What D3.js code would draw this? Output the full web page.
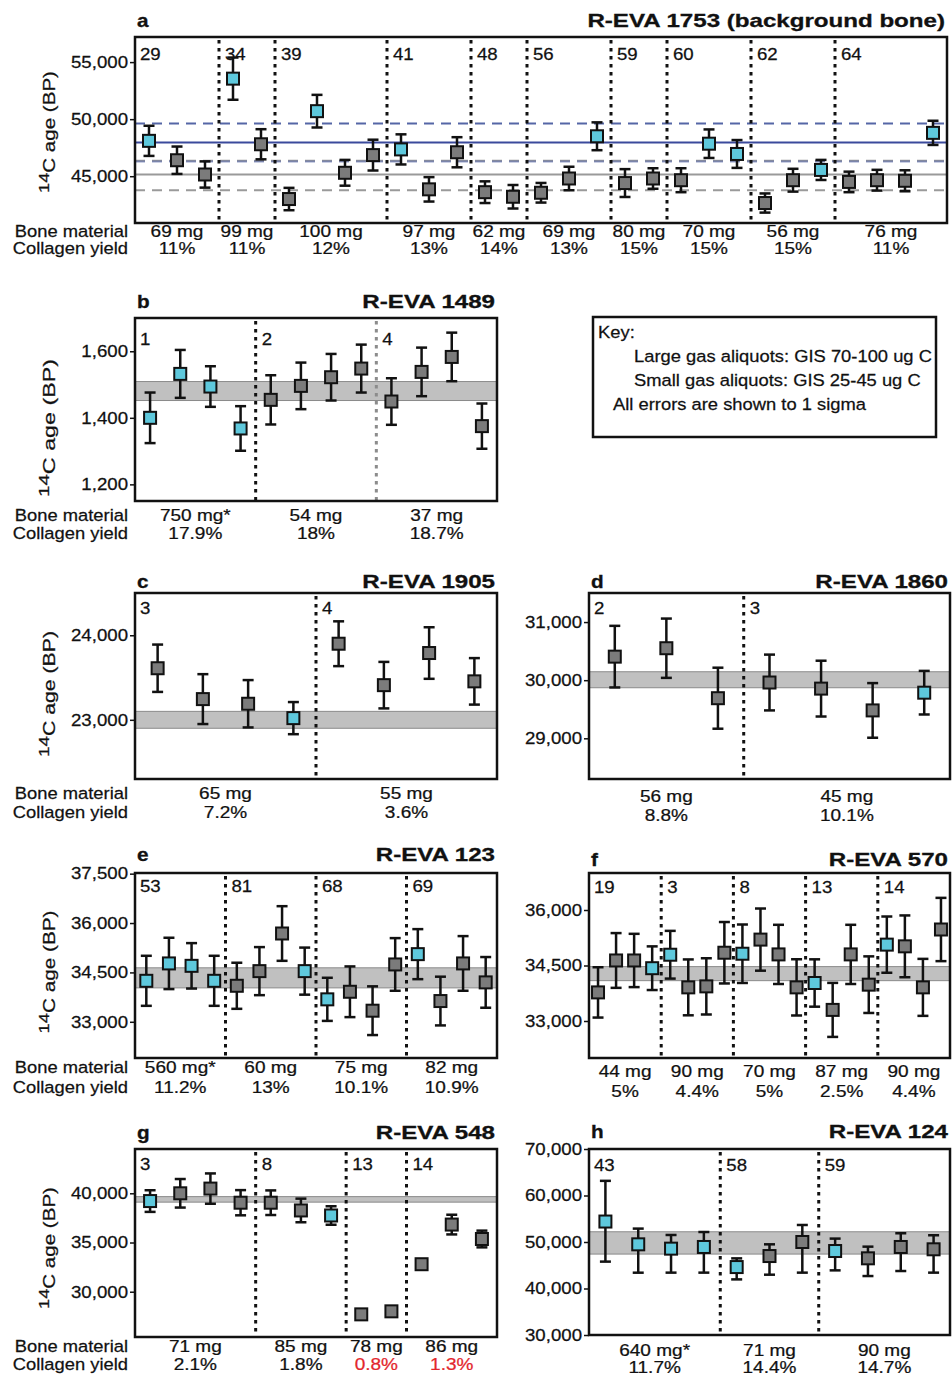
<!DOCTYPE html>
<html>
<head>
<meta charset="utf-8">
<script src="https://cdn.jsdelivr.net/npm/d3@7"></script>
<style>
  body { margin: 0; background: #fff; }
  text { font-family: "Liberation Sans", Arial, Helvetica, sans-serif; }
</style>
</head>
<body>
<script>
// ---- data (14C ages in years BP, 1 sigma) ----
// kind: c = cyan marker, g = grey marker

// a: R-EVA 1753 (background bone)
const aAge = [48100, 46400, 45150, 53550, 47800, 43000, 50700, 45300, 46850, 47350, 43850, 47100, 43600, 43200, 43550,
              44800, 48500, 44400, 44800, 44650, 47850, 46950, 42650, 44650, 45550, 44500, 44650, 44600, 48800];
const aErr = [1320, 1200, 1150, 1850, 1320, 980, 1430, 1130, 1350, 1320, 1070, 1320, 950, 1030, 860,
              1030, 1220, 1220, 900, 1050, 1250, 1220, 840, 1000, 880, 900, 910, 920, 1060];
const aKind = "cggcggcggcggggggcgggccggcgggc";
const aGroups = [3, 2, 4, 3, 2, 3, 2, 3, 3, 4];
const aIds = ["29", "34", "39", "41", "48", "56", "59", "60", "62", "64"];
const aMass = ["69 mg", "99 mg", "100 mg", "97 mg", "62 mg", "69 mg", "80 mg", "70 mg", "56 mg", "76 mg"];
const aYield = ["11%", "11%", "12%", "13%", "14%", "13%", "15%", "15%", "15%", "11%"];
const aBlueLine = [46300, 47950, 49620];   // lower, mean, upper
const aGreyLine = [43770, 45150, 46350];

// b: R-EVA 1489
const bAge = [1400, 1532, 1494, 1368, 1454, 1496, 1522, 1548, 1449, 1538, 1583, 1375];
const bErr = [76, 72, 61, 67, 74, 70, 70, 72, 70, 73, 73, 68];
const bKind = "ccccgggggggg";
const bGroups = [4, 4, 4];
const bIds = ["1", "2", "4"];
const bMass = ["750 mg*", "54 mg", "37 mg"];
const bYield = ["17.9%", "18%", "18.7%"];
const bBand = [1452, 1509];

// c: R-EVA 1905
const cAge = [23610, 23245, 23190, 23020, 23900, 23410, 23790, 23455];
const cErr = [280, 295, 280, 190, 265, 275, 305, 275];
const cKind = "gggcgggg";
const cGroups = [4, 4];
const cIds = ["3", "4"];
const cMass = ["65 mg", "55 mg"];
const cYield = ["7.2%", "3.6%"];
const cBand = [22900, 23100];

// d: R-EVA 1860
const dAge = [30405, 30550, 29690, 29960, 29855, 29480, 29785];
const dErr = [530, 510, 525, 480, 480, 470, 375];
const dKind = "ggggggc";
const dGroups = [3, 4];
const dIds = ["2", "3"];
const dMass = ["56 mg", "45 mg"];
const dYield = ["8.8%", "10.1%"];
const dBand = [29870, 30145];

// e: R-EVA 123
const eAge = [34245, 34773, 34700, 34245, 34094, 34539, 35682, 34539, 33682, 33912, 33337, 34742, 35055, 33630, 34773, 34197];
const eErr = [760, 780, 690, 760, 700, 730, 830, 715, 655, 770, 740, 800, 760, 740, 830, 770];
const eKind = "ccccgggccgggcggg";
const eGroups = [4, 4, 4, 4];
const eIds = ["53", "81", "68", "69"];
const eMass = ["560 mg*", "60 mg", "75 mg", "82 mg"];
const eYield = ["11.2%", "13%", "10.1%", "10.9%"];
const eBand = [34030, 34640];

// f: R-EVA 570
const fAge = [33773, 34636, 34636, 34427, 34791, 33909, 33936, 34845, 34818, 35200, 34800, 33909, 34027, 33300, 34800, 33982, 35064, 35018, 33909, 35473];
const fErr = [680, 740, 720, 590, 645, 755, 760, 830, 790, 840, 800, 760, 640, 730, 800, 765, 760, 835, 770, 855];
const fKind = "gggccgggcgggcgggcggg";
const fGroups = [4, 4, 4, 4, 4];
const fIds = ["19", "3", "8", "13", "14"];
const fMass = ["44 mg", "90 mg", "70 mg", "87 mg", "90 mg"];
const fYield = ["5%", "4.4%", "5%", "2.5%", "4.4%"];
const fBand = [34090, 34470];

// g: R-EVA 548
const gAge = [39211, 40000, 40478, 39043, 39043, 38257, 37745, 27700, 28007, 32794, 36822, 35357];
const gErr = [1100, 1450, 1540, 1280, 1250, 1200, 940, 250, 250, 300, 1000, 850];
const gKind = "cgggggcggggg";
const gGroups = [4, 3, 2, 3];
const gIds = ["3", "8", "13", "14"];
const gMass = ["71 mg", "85 mg", "78 mg", "86 mg"];
const gYield = ["2.1%", "1.8%", "0.8%", "1.3%"];
const gLowYield = [false, false, true, true];
const gBand = [39100, 39660];

// h: R-EVA 124 (asymmetric errors)
const hAge = [54400, 49500, 48570, 48930, 44610, 46980, 50000, 48060, 46490, 48930, 48430];
const hErrUp = [8750, 3380, 2940, 3220, 1870, 2520, 3660, 2670, 2510, 2950, 3020];
const hErrDn = [8620, 6100, 5160, 5520, 2650, 4010, 6590, 4160, 3810, 5170, 5020];
const hKind = "cccccggcggg";
const hGroups = [4, 3, 4];
const hIds = ["43", "58", "59"];
const hMass = ["640 mg*", "71 mg", "90 mg"];
const hYield = ["11.7%", "14.4%", "14.7%"];
const hBand = [47400, 52200];

const keyLines = ["Key:", "Large gas aliquots: GIS 70-100 ug C", "Small gas aliquots: GIS 25-45 ug C", "All errors are shown to 1 sigma"];

// ---- layout ----
const W = 952, H = 1378;
const ink = "#111";
const cyanFill = "#5ec8dc";
const greyFill = "#7b7b7b";

const svg = d3.select("body").append("svg").attr("width", W).attr("height", H);

function txt(parent, x, y, s, o = {}) {
  const fill = o.fill || ink;
  return parent.append("text")
    .attr("transform", `translate(${x},${y}) scale(${o.sx ?? 1.1},1)`)
    .attr("text-anchor", o.anchor || "start")
    .attr("font-size", o.size || 17)
    .attr("font-weight", o.weight || "normal")
    .attr("fill", fill)
    .attr("stroke", fill).attr("stroke-width", o.weight === "bold" ? 0.3 : 0.25)
    .text(s);
}

const panels = [
  { letter: "a", title: "R-EVA 1753 (background bone)", age: aAge, err: aErr, kind: aKind, groups: aGroups, ids: aIds, mass: aMass, yld: aYield,
    box: [135, 947, 37, 223], domain: [40900, 57200], ticks: [45000, 50000, 55000],
    titleY: 27, idDy: 23, rows: [14, 31], yTitle: [132, 122], refLines: true },
  { letter: "b", title: "R-EVA 1489", age: bAge, err: bErr, kind: bKind, groups: bGroups, ids: bIds, mass: bMass, yld: bYield, band: bBand,
    box: [135, 497, 318, 501], domain: [1150, 1700], ticks: [1200, 1400, 1600],
    titleY: 308, idDy: 27, rows: [20, 38], yTitle: [428, 138], divColors: [ink, "#8c8c8c"] },
  { letter: "c", title: "R-EVA 1905", age: cAge, err: cErr, kind: cKind, groups: cGroups, ids: cIds, mass: cMass, yld: cYield, band: cBand,
    box: [135, 497, 593, 779], domain: [22300, 24500], ticks: [23000, 24000],
    titleY: 588, idDy: 21, rows: [20, 39], yTitle: [694, 126] },
  { letter: "d", title: "R-EVA 1860", age: dAge, err: dErr, kind: dKind, groups: dGroups, ids: dIds, mass: dMass, yld: dYield, band: dBand,
    box: [589, 950, 593, 779], domain: [28300, 31500], ticks: [29000, 30000, 31000],
    titleY: 588, idDy: 21, rows: [23, 42] },
  { letter: "e", title: "R-EVA 123", age: eAge, err: eErr, kind: eKind, groups: eGroups, ids: eIds, mass: eMass, yld: eYield, band: eBand,
    box: [135, 497, 873, 1058], domain: [31900, 37520], ticks: [33000, 34500, 36000, 37500],
    titleY: 861, idDy: 19, rows: [15, 35], yTitle: [972, 123] },
  { letter: "f", title: "R-EVA 570", age: fAge, err: fErr, kind: fKind, groups: fGroups, ids: fIds, mass: fMass, yld: fYield, band: fBand,
    box: [589, 950, 873, 1058], domain: [32000, 37000], ticks: [33000, 34500, 36000],
    titleY: 866, idDy: 20, rows: [19, 39] },
  { letter: "g", title: "R-EVA 548", age: gAge, err: gErr, kind: gKind, groups: gGroups, ids: gIds, mass: gMass, yld: gYield, band: gBand, low: gLowYield,
    box: [135, 497, 1149, 1337], domain: [25400, 44500], ticks: [30000, 35000, 40000],
    titleY: 1139, idDy: 21, rows: [15, 33], yTitle: [1248, 122] },
  { letter: "h", title: "R-EVA 124", age: hAge, up: hErrUp, dn: hErrDn, kind: hKind, groups: hGroups, ids: hIds, mass: hMass, yld: hYield, band: hBand,
    box: [589, 950, 1149, 1335], domain: [30000, 70000], ticks: [30000, 40000, 50000, 60000, 70000],
    titleY: 1138, idDy: 22, rows: [21, 38] }
];

function drawPanel(p) {
  const [L, R, T, B] = p.box;
  const n = p.age.length;
  const g = svg.append("g").attr("class", "panel-" + p.letter);
  const x = d3.scalePoint().domain(d3.range(n)).range([L, R]).padding(0.5);
  const y = d3.scaleLinear().domain(p.domain).range([B, T]);
  const step = x.step();
  const up = p.up || p.err, dn = p.dn || p.err;

  // grey consensus band
  if (p.band) {
    g.append("rect")
      .attr("x", L).attr("width", R - L)
      .attr("y", y(p.band[1])).attr("height", y(p.band[0]) - y(p.band[1]))
      .attr("fill", "#c0c0c0");
    g.selectAll("line.bandEdge").data(p.band).enter().append("line")
      .attr("x1", L).attr("x2", R)
      .attr("y1", (d) => y(d)).attr("y2", (d) => y(d))
      .attr("stroke", "#8a8a8a").attr("stroke-width", 1);
  }

  // mean +/- lines of panel a
  if (p.refLines) {
    const lines = [
      { v: aGreyLine[0], c: "#9a9a9a", dash: "10,7", op: 1 },
      { v: aGreyLine[2], c: "#9a9a9a", dash: "10,7", op: 1 },
      { v: aGreyLine[1], c: "#9a9a9a", dash: null, op: 1 },
      { v: aBlueLine[0], c: "#5566a6", dash: "10,7", op: 0.6 },
      { v: aBlueLine[2], c: "#5566a6", dash: "10,7", op: 1 },
      { v: aBlueLine[1], c: "#3b4a9c", dash: null, op: 1 }
    ];
    g.selectAll("line.ref").data(lines).enter().append("line")
      .attr("x1", L).attr("x2", R)
      .attr("y1", (d) => y(d.v)).attr("y2", (d) => y(d.v))
      .attr("stroke", (d) => d.c)
      .attr("stroke-opacity", (d) => d.op)
      .attr("stroke-width", 2)
      .attr("stroke-dasharray", (d) => d.dash);
  }

  // group boundaries
  const starts = [];
  let cum = 0;
  p.groups.forEach((s) => { starts.push(cum); cum += s; });
  const divX = starts.slice(1).map((s) => x(s) - step / 2);
  g.selectAll("line.div").data(divX).enter().append("line")
    .attr("x1", (d) => d).attr("x2", (d) => d)
    .attr("y1", T + 3).attr("y2", B)
    .attr("stroke", (d, i) => (p.divColors ? p.divColors[i] : ink))
    .attr("stroke-width", 3)
    .attr("stroke-dasharray", "3.5,4.5");

  // group ids
  const idX = [L + 5].concat(divX.map((d) => d + 6));
  p.ids.forEach((s, i) => txt(g, idX[i], T + p.idDy, s, { size: 16.5, sx: 1.13 }));

  // error bars
  const idx = d3.range(n);
  const eb = g.selectAll("g.err").data(idx).enter().append("g");
  eb.append("line")
    .attr("x1", (i) => x(i)).attr("x2", (i) => x(i))
    .attr("y1", (i) => y(p.age[i] + up[i])).attr("y2", (i) => y(p.age[i] - dn[i]))
    .attr("stroke", ink).attr("stroke-width", 2.5);
  eb.append("line")
    .attr("x1", (i) => x(i) - 5.5).attr("x2", (i) => x(i) + 5.5)
    .attr("y1", (i) => y(p.age[i] + up[i])).attr("y2", (i) => y(p.age[i] + up[i]))
    .attr("stroke", ink).attr("stroke-width", 2.5);
  eb.append("line")
    .attr("x1", (i) => x(i) - 5.5).attr("x2", (i) => x(i) + 5.5)
    .attr("y1", (i) => y(p.age[i] - dn[i])).attr("y2", (i) => y(p.age[i] - dn[i]))
    .attr("stroke", ink).attr("stroke-width", 2.5);

  // markers
  g.selectAll("rect.pt").data(idx).enter().append("rect")
    .attr("class", "pt")
    .attr("x", (i) => x(i) - 6).attr("y", (i) => y(p.age[i]) - 6)
    .attr("width", 12).attr("height", 12)
    .attr("fill", (i) => (p.kind[i] === "c" ? cyanFill : greyFill))
    .attr("stroke", ink).attr("stroke-width", 2);

  // frame
  g.append("rect")
    .attr("x", L).attr("y", T).attr("width", R - L).attr("height", B - T)
    .attr("fill", "none").attr("stroke", ink).attr("stroke-width", 2.5);

  // y axis
  const ax = g.append("g")
    .attr("transform", `translate(${L},0)`)
    .call(d3.axisLeft(y).tickValues(p.ticks).tickFormat(d3.format(",")).tickSize(5).tickPadding(2));
  ax.select(".domain").remove();
  ax.attr("font-family", null).attr("font-size", null);
  ax.selectAll(".tick line").attr("stroke", ink).attr("stroke-width", 1.5);
  const sxT = 1.13;
  ax.selectAll(".tick text")
    .attr("font-size", 16.5)
    .attr("fill", ink)
    .attr("stroke", ink).attr("stroke-width", 0.25)
    .attr("x", -7 / sxT)
    .attr("transform", `scale(${sxT},1)`);

  // panel letter and title
  txt(g, L + 2, p.titleY, p.letter, { size: 18, weight: "bold", sx: 1.15 });
  txt(g, R - 2, p.titleY, p.title, { size: 18, weight: "bold", sx: 1.34, anchor: "end" });

  // sample mass and collagen yield under each group
  p.groups.forEach((s, k) => {
    const cx = (x(starts[k]) + x(starts[k] + s - 1)) / 2;
    txt(g, cx, B + p.rows[0], p.mass[k], { anchor: "middle", sx: 1.12 });
    txt(g, cx, B + p.rows[1], p.yld[k], { anchor: "middle", sx: 1.12, fill: p.low && p.low[k] ? "#e3262d" : ink });
  });

  // left-column row labels and axis title
  if (p.yTitle) {
    txt(g, 128, B + p.rows[0], "Bone material", { anchor: "end", sx: 1.08 });
    txt(g, 128, B + p.rows[1], "Collagen yield", { anchor: "end", sx: 1.08 });
    const yt = g.append("text")
      .attr("text-anchor", "middle")
      .attr("font-size", 17)
      .attr("fill", ink)
      .attr("stroke", ink).attr("stroke-width", 0.25);
    yt.append("tspan").attr("font-size", 15).attr("dy", -6).text("14");
    yt.append("tspan").attr("dy", 6).text("C age (BP)");
    const w = yt.node().getBBox().width;
    yt.attr("transform", `translate(55,${p.yTitle[0]}) rotate(-90) scale(${p.yTitle[1] / w},1)`);
  }
}

panels.forEach(drawPanel);

// key box
const key = svg.append("g");
key.append("rect")
  .attr("x", 593).attr("y", 317).attr("width", 343).attr("height", 120)
  .attr("fill", "none").attr("stroke", ink).attr("stroke-width", 2.5);
const keyX = [598, 634, 634, 613];
const keyY = [338, 362, 386, 410];
keyLines.forEach((s, i) => txt(key, keyX[i], keyY[i], s, { size: 17, sx: 1.08 }));
</script>
</body>
</html>
